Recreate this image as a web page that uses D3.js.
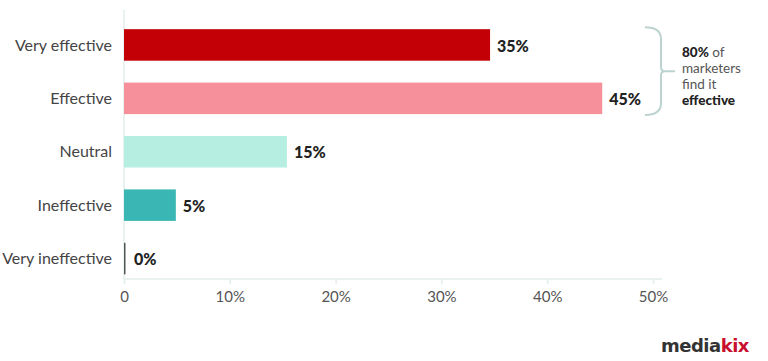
<!DOCTYPE html>
<html>
<head>
<meta charset="utf-8">
<script src="https://cdn.jsdelivr.net/npm/d3@7"></script>
<style>
  body { margin: 0; background: #fff; }
  text { font-family: Lato, "Open Sans", sans-serif; }
</style>
</head>
<body>
<div id="chart"></div>
<script>
var categories = ["Very effective", "Effective", "Neutral", "Ineffective", "Very ineffective"];
var values = [34.6, 45.2, 15.4, 4.9, 0];
var valueLabels = ["35%", "45%", "15%", "5%", "0%"];
var barColors = ["#c20006", "#f6909b", "#b6eee1", "#3ab7b4", "#555555"];
var xTicks = [0, 10, 20, 30, 40, 50];
var noteLines = [["80%", " of"], ["", "marketers"], ["", "find it"], ["effective", ""]];

var width = 768,
  height = 361;

var svg = d3
  .select("#chart")
  .append("svg")
  .attr("width", width)
  .attr("height", height);

var x = d3.scaleLinear().domain([0, 50]).range([124, 653]);
var y = d3
  .scaleBand()
  .domain(categories)
  .range([18.5, 285])
  .paddingInner(0.41)
  .paddingOuter(0.2);

// axis lines
svg
  .append("line")
  .attr("x1", x(0))
  .attr("x2", x(0))
  .attr("y1", 10)
  .attr("y2", 279)
  .style("stroke", "#e3eeec")
  .style("stroke-width", "1.5px");

var xAxis = svg
  .append("g")
  .attr("transform", "translate(0,279)")
  .call(
    d3
      .axisBottom(x)
      .tickValues(xTicks)
      .tickSize(5)
      .tickFormat(function (d) {
        return d === 0 ? "0" : d + "%";
      })
  );
xAxis.select(".domain").remove();
xAxis
  .append("line")
  .attr("x1", x(0))
  .attr("x2", 662)
  .style("stroke", "#e3eeec")
  .style("stroke-width", "1.5px");
xAxis.selectAll(".tick line").style("stroke", "#e3eeec").style("stroke-width", "1.5px");
xAxis
  .selectAll(".tick text")
  .attr("y", 12)
  .style("font-family", "Lato, sans-serif")
  .style("font-size", "15px")
  .style("fill", "#555");

// bars
svg
  .selectAll(".bar")
  .data(categories)
  .enter()
  .append("rect")
  .attr("class", "bar")
  .attr("x", x(0))
  .attr("y", function (d) {
    return y(d);
  })
  .attr("width", function (d, i) {
    return values[i] > 0 ? x(values[i]) - x(0) : 1.5;
  })
  .attr("height", y.bandwidth())
  .style("fill", function (d, i) {
    return barColors[i];
  });

// category labels
svg
  .selectAll(".cat")
  .data(categories)
  .enter()
  .append("text")
  .attr("class", "cat")
  .attr("x", 112)
  .attr("y", function (d) {
    return y(d) + y.bandwidth() / 2;
  })
  .attr("dy", "0.35em")
  .attr("text-anchor", "end")
  .style("font-size", "16px")
  .style("fill", "#444")
  .text(function (d) {
    return d;
  });

// value labels
svg
  .selectAll(".val")
  .data(categories)
  .enter()
  .append("text")
  .attr("class", "val")
  .attr("x", function (d, i) {
    return x(values[i]) + (values[i] > 0 ? 7 : 10);
  })
  .attr("y", function (d) {
    return y(d) + y.bandwidth() / 2 + 1;
  })
  .attr("dy", "0.35em")
  .style("font-size", "16px")
  .style("font-weight", "900")
  .style("fill", "#222")
  .text(function (d, i) {
    return valueLabels[i];
  });

// bracket
var bTop = y(categories[0]) - 2,
  bBot = y(categories[1]) + y.bandwidth() + 1,
  bMid = (bTop + bBot) / 2,
  bx = 661;
svg
  .append("path")
  .attr(
    "d",
    "M645," + bTop +
      " Q" + bx + "," + bTop + " " + bx + "," + (bTop + 12) +
      " L" + bx + "," + (bMid - 4) +
      " Q" + bx + "," + bMid + " " + (bx + 4) + "," + bMid +
      " L" + (bx + 14) + "," + bMid +
      " M" + (bx + 4) + "," + bMid +
      " Q" + bx + "," + bMid + " " + bx + "," + (bMid + 4) +
      " L" + bx + "," + (bBot - 12) +
      " Q" + bx + "," + bBot + " 645," + bBot
  )
  .style("fill", "none")
  .style("stroke", "#bcd3cf")
  .style("stroke-width", "2px");

var note = svg
  .append("text")
  .attr("x", 682)
  .attr("y", 57)
  .style("font-size", "13.5px")
  .style("fill", "#555");
noteLines.forEach(function (line, i) {
  var t = note
    .append("tspan")
    .attr("x", 682)
    .attr("y", 57 + i * 16);
  if (line[0]) t.append("tspan").style("font-weight", "900").style("fill", "#222").text(line[0]);
  if (line[1]) t.append("tspan").text(line[1]);
});

// logo
var logo = svg
  .append("text")
  .attr("x", 661)
  .attr("y", 352)
  .style("font-family", "'DejaVu Sans', sans-serif")
  .style("font-size", "18px")
  .style("font-weight", "bold")
  .style("letter-spacing", "-0.5px");
logo.append("tspan").style("fill", "#333").text("media");
logo.append("tspan").style("fill", "#c8102e").text("kix");
</script>
</body>
</html>
